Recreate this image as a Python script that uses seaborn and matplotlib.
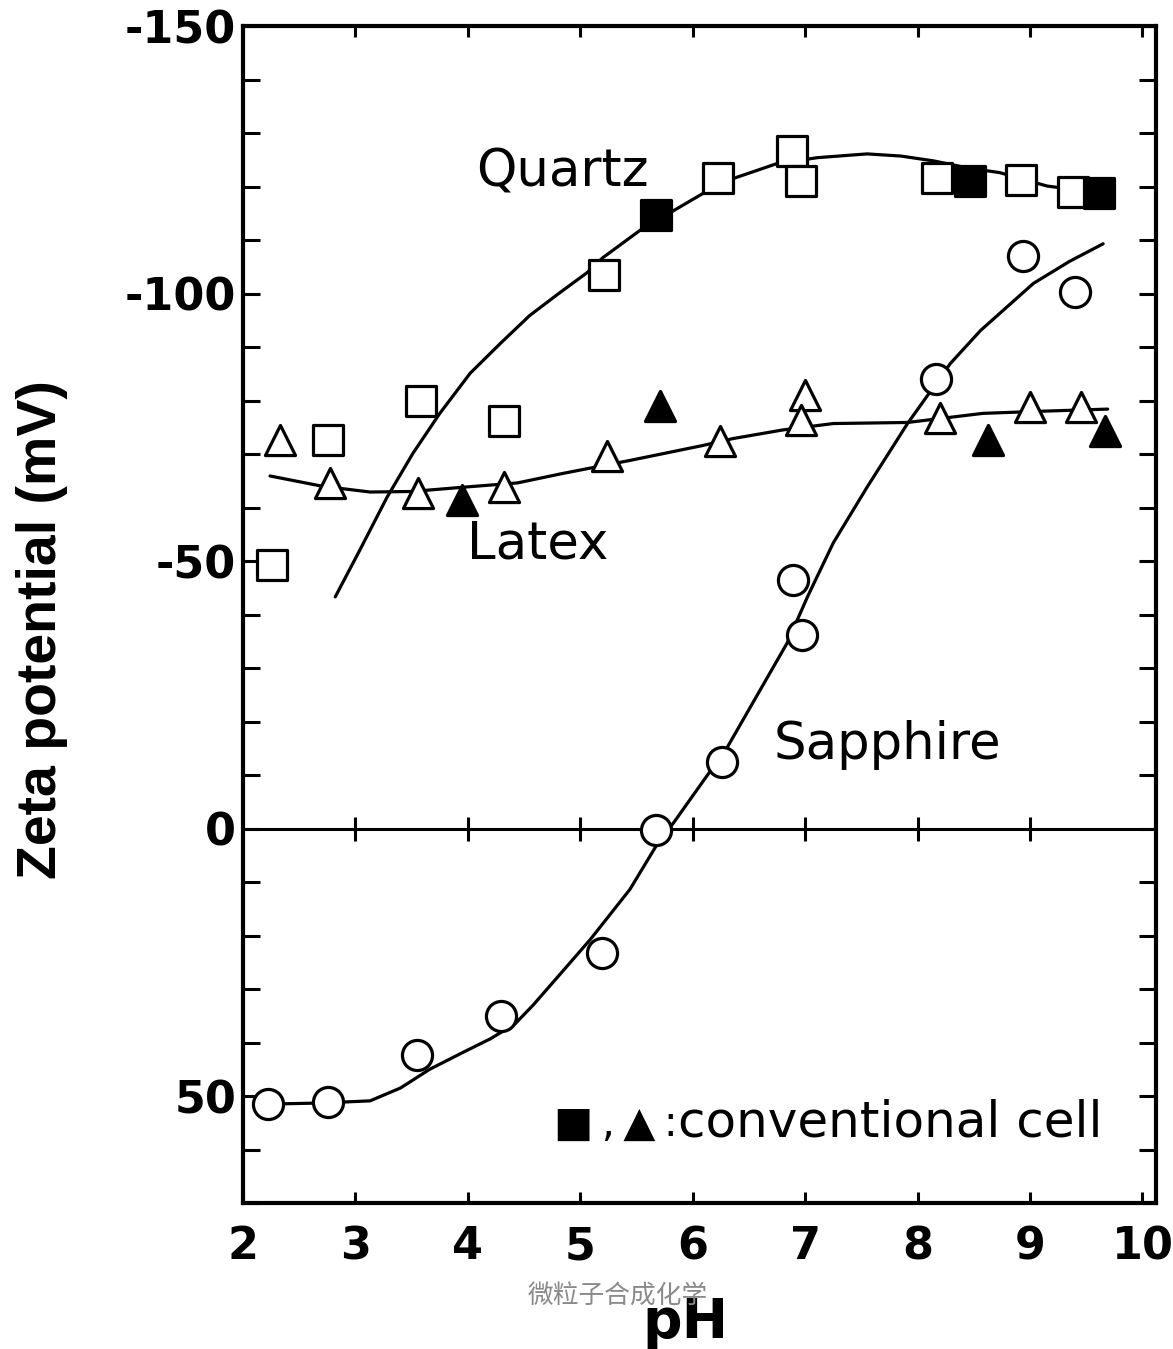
import numpy as np
import pandas as pd
import seaborn as sns
import matplotlib
matplotlib.use('Agg')
import matplotlib.pyplot as plt
from matplotlib.ticker import MultipleLocator

# ---- data (pH, zeta potential in mV) ----
quartz_x = [2.26, 2.76, 3.58, 4.32, 5.21, 6.22, 6.88, 6.96, 8.17, 8.92, 9.38]
quartz_y = [-49.3, -72.6, -80.0, -76.1, -103.4, -121.6, -126.7, -121.1, -121.6, -121.3, -119.0]
quartz_conv_x = [5.67, 8.47, 9.61]
quartz_conv_y = [-114.6, -121.1, -118.8]
quartz_fit_x = [2.82, 3.04, 3.28, 3.51, 3.75, 4.02, 4.29, 4.55, 4.82, 5.06, 5.20, 5.53, 5.83,
                6.09, 6.36, 6.75, 7.11, 7.55, 7.85, 8.14, 8.44, 8.73, 9.15, 9.62]
quartz_fit_y = [-43.3, -52.1, -61.9, -70.1, -77.6, -85.1, -90.7, -95.9, -100.2, -103.9, -106.7,
                -111.8, -115.5, -118.7, -121.5, -124.3, -125.4, -126.1, -125.7, -124.8, -123.5,
                -122.6, -120.1, -118.8]

latex_x = [2.33, 2.77, 3.56, 4.32, 5.24, 6.24, 7.00, 6.96, 8.20, 9.00, 9.45]
latex_y = [-72.6, -64.6, -62.7, -63.8, -69.6, -72.4, -81.0, -76.3, -76.7, -78.7, -78.7]
latex_conv_x = [3.95, 5.71, 8.63, 9.67]
latex_conv_y = [-61.4, -78.9, -72.6, -74.3]
latex_fit_x = [2.24, 2.70, 3.13, 3.50, 3.96, 4.44, 4.85, 5.44, 6.09, 6.36, 6.80, 7.25, 7.91, 8.58,
               9.10, 9.69]
latex_fit_y = [-65.9, -64.0, -62.9, -63.0, -63.8, -64.6, -66.4, -68.8, -71.6, -72.9, -74.5, -75.7,
               -75.9, -77.6, -78.0, -78.4]

sapphire_x = [2.22, 2.76, 3.55, 4.29, 5.19, 5.67, 6.26, 6.97, 6.89, 8.16, 8.94, 9.40]
sapphire_y = [51.5, 51.1, 42.4, 35.1, 23.3, 0.2, -12.5, -36.2, -46.5, -84.1, -107.1, -100.2]
sapphire_fit_x = [2.24, 2.70, 3.13, 3.40, 3.66, 3.96, 4.20, 4.42, 4.58, 4.85, 5.09, 5.44, 5.67,
                  5.83, 6.31, 6.84, 7.02, 7.25, 7.55, 7.91, 8.29, 8.56, 9.03, 9.35, 9.65]
sapphire_fit_y = [51.5, 51.3, 50.9, 48.5, 45.0, 41.8, 39.3, 36.5, 33.0, 26.5, 20.7, 11.4, 3.4,
                  -1.1, -15.3, -34.7, -43.3, -53.4, -63.8, -75.7, -86.9, -93.1, -101.9, -106.0,
                  -109.3]

x_ticks = [2, 3, 4, 5, 6, 7, 8, 9, 10]
y_ticks = [-150, -100, -50, 0, 50]
y_tick_labels = ['-150', '-100', '-50', '0', '50']

sns.set_theme(style='ticks')
plt.rcParams['font.family'] = ['DejaVu Sans', 'Noto Sans CJK SC']
for key in ['text.color', 'axes.labelcolor', 'xtick.color', 'ytick.color', 'axes.edgecolor']:
    plt.rcParams[key] = 'black'

fig = plt.figure(figsize=(11.73, 13.49), dpi=100)
ax = fig.add_axes([0.2072, 0.1082, 0.7783, 0.8725])

# fitted curves
for fx, fy in [(quartz_fit_x, quartz_fit_y), (latex_fit_x, latex_fit_y),
               (sapphire_fit_x, sapphire_fit_y)]:
    sns.lineplot(x=fx, y=fy, sort=False, estimator=None, color='black', lw=2.3, ax=ax, zorder=2)

# zero line with little cross ticks
ax.axhline(0, color='black', lw=2.2, zorder=1)
ax.plot(x_ticks[1:-1], [0] * len(x_ticks[1:-1]), ls='none', marker='|', ms=17, mew=2.2,
        color='black', zorder=1)

# data points
def pts(xs, ys, marker, fill):
    sns.scatterplot(x=xs, y=ys, marker=marker, s=470, color=fill, edgecolor='black',
                    linewidth=2.3, ax=ax, zorder=3, legend=False)

pts(quartz_x, quartz_y, 's', 'white')
pts(quartz_conv_x, quartz_conv_y, 's', 'black')
pts(latex_x, latex_y, '^', 'white')
pts(latex_conv_x, latex_conv_y, '^', 'black')
pts(sapphire_x, sapphire_y, 'o', 'white')

ax.set_xlim(2, 10.12)
ax.set_ylim(70, -150)
ax.set_xticks(x_ticks)
ax.set_xticklabels([str(t) for t in x_ticks])
ax.set_yticks(y_ticks)
ax.set_yticklabels(y_tick_labels)
ax.yaxis.set_minor_locator(MultipleLocator(10))

ax.tick_params(axis='y', which='both', direction='in', left=True, right=True,
               length=12, width=2.2, pad=5, labelsize=32)
ax.tick_params(axis='x', which='major', direction='in', top=True, bottom=True,
               length=8, width=2.2, pad=16, labelsize=32)
for lab in ax.get_xticklabels() + ax.get_yticklabels():
    lab.set_fontweight('bold')
for sp in ax.spines.values():
    sp.set_linewidth(3)
    sp.set_color('black')

ax.set_xlabel('pH', fontsize=40, fontweight='bold')
ax.xaxis.set_label_coords(0.485, -0.079)
ax.set_ylabel('Zeta potential (mV)', fontsize=40, fontweight='bold',
              family=['Liberation Sans', 'DejaVu Sans'])
ax.yaxis.set_label_coords(-0.192, 0.487)

txt = dict(fontsize=37, color='black', ha='center', va='center')
ax.text(4.84, -122.6, 'Quartz', **txt)
ax.text(4.62, -53.0, 'Latex', **txt)
ax.text(7.73, -15.7, 'Sapphire', **txt)
ax.text(5.87, 57.5, '■\u2009,\u2009▲\u2009:', fontsize=30, color='black', ha='right', va='baseline')
ax.text(5.87, 57.5, 'conventional cell', fontsize=36, color='black', ha='left', va='baseline')

fig.text(0.527, 0.0385, '微粒子合成化学', fontsize=18.5, color='#8a8a8a', ha='center', va='center',
         family=['Noto Sans CJK SC', 'DejaVu Sans'])

fig.savefig('out.png', dpi=100)
